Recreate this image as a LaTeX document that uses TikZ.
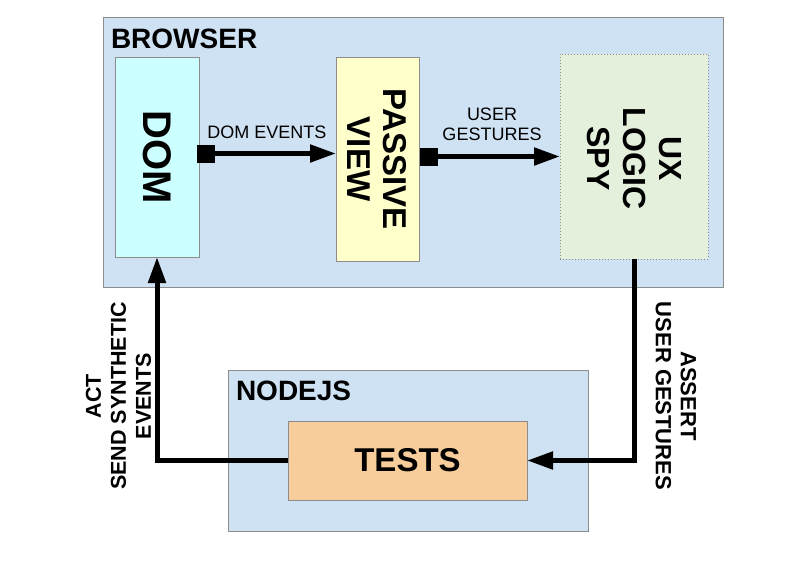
\documentclass[tikz,border=0pt]{standalone}
\usepackage{fontspec}
\setmainfont{Liberation Sans}
\usetikzlibrary{arrows.meta}
\definecolor{bgblue}{HTML}{CFE2F3}
\definecolor{domfill}{HTML}{CCFFFF}
\definecolor{pvfill}{HTML}{FFFFCC}
\definecolor{uxfill}{HTML}{E4EFDC}
\definecolor{testfill}{HTML}{F6CD9B}
\definecolor{edge}{HTML}{8C8C8C}
\tikzset{
  box/.style={draw=edge, line width=1pt, inner sep=0pt, outer sep=0pt},
  txt/.style={inner sep=0pt, outer sep=0pt, align=center, text=black},
  conn/.style={line width=5pt, draw=black, line join=miter},
  sqtri/.style={conn, {Square[length=18pt,width=18pt]}-{Triangle[length=26pt,width=17pt]}},
  tri/.style={conn, -{Triangle[length=26pt,width=17pt]}}
}
\begin{document}
\begin{tikzpicture}[x=1pt,y=-1pt]
\useasboundingbox (0,0) rectangle (800,566);
% containers
\node[box, fill=bgblue, minimum width=620pt, minimum height=270pt] (browser) at (413,152) {};
\node[box, fill=bgblue, minimum width=360pt, minimum height=161pt] (nodejs) at (408,451) {};
% inner boxes
\node[box, fill=domfill, minimum width=84pt, minimum height=200pt] (dom) at (157,157) {};
\node[box, fill=pvfill, minimum width=83pt, minimum height=204pt] (pv) at (377.5,159) {};
\node[box, fill=uxfill, draw=edge, dotted, line width=0.8pt, minimum width=148pt, minimum height=205pt] (ux) at (634,156.5) {};
\node[box, fill=testfill, minimum width=239pt, minimum height=79pt] (tests) at (407.5,460.5) {};
% titles
\node[txt, anchor=base west, font=\bfseries\fontsize{28}{30}\selectfont] (tbrowser) at (111,48) {BROWSER};
\node[txt, anchor=base west, font=\bfseries\fontsize{28}{30}\selectfont] (tnodejs) at (236,400) {NODEJS};
% box texts
\node[txt, rotate=-90, font=\bfseries\fontsize{40}{44}\selectfont] (tdom) at (dom.center) {DOM};
\node[txt, rotate=-90, font=\bfseries\fontsize{33}{36}\selectfont] (tpv) at (pv.center) {PASSIVE\\VIEW};
\node[txt, rotate=-90, font=\bfseries\fontsize{32}{36}\selectfont] (tux) at ([yshift=-2pt]ux.center) {UX\\LOGIC\\SPY};
\node[txt, font=\bfseries\fontsize{33}{36}\selectfont] (ttests) at (tests.center) {TESTS};
% connectors
\draw[sqtri] ([xshift=-2pt,yshift=3.5pt]dom.east) -- ([yshift=5.5pt]pv.west);
\draw[sqtri] ([xshift=1pt,yshift=2.5pt]pv.east) -- (ux.west);
\draw[tri] (tests.west) -| (dom.south);
\draw[tri] (ux.south) |- (tests.east);
% connector labels
\node[txt, font=\fontsize{18}{20.5}\selectfont] (ldom) at (267,132.5) {DOM EVENTS};
\node[txt, font=\fontsize{18}{20.5}\selectfont] (lgest) at (492,124.5) {USER\\GESTURES};
\node[txt, rotate=90, font=\bfseries\fontsize{21.5}{25}\selectfont] (lact) at (118.5,396) {ACT\\SEND SYNTHETIC\\EVENTS};
\node[txt, rotate=-90, font=\bfseries\fontsize{22}{25}\selectfont] (lassert) at (676,396) {ASSERT\\USER GESTURES};
\end{tikzpicture}
\end{document}
